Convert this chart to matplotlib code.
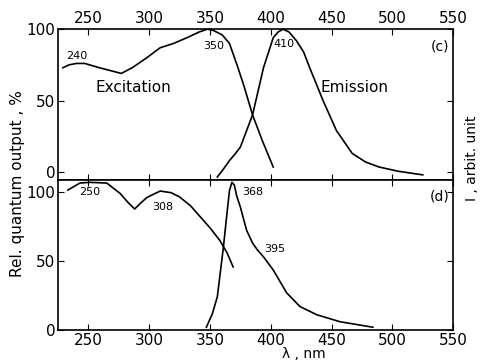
import numpy as np
import matplotlib.pyplot as plt

# panel (c): excitation and emission spectra
exc_c_x = [229, 234, 240, 247, 259, 268, 277, 286, 298, 309, 320, 331, 341, 348, 353, 360, 366, 373, 378, 385, 393, 402]
exc_c_y = [73, 75, 76, 76, 73, 71, 69, 73, 80, 87, 90, 94, 98, 100, 99, 96, 90, 73, 60, 40, 22, 3.5]
em_c_x = [356, 361, 366, 371, 375, 385, 394, 402, 406, 410, 415, 421, 427, 432, 443, 454, 467, 478, 489, 505, 525]
em_c_y = [-3.5, 2, 8, 13, 17.5, 40, 73, 94, 98, 100, 98, 92, 84, 73, 50, 29, 13, 7, 3.5, 0.5, -2]

# panel (d)
exc_d_x = [233, 243, 251, 265, 276, 283, 288, 293, 298, 309, 318, 325, 334, 342, 350, 358, 364, 369]
exc_d_y = [101.4, 106.5, 107, 106.5, 99, 92, 87.7, 92, 96, 100.7, 99.5, 96.4, 90, 82, 74, 65, 56, 45.7]
em_d_x = [347, 352, 356, 361, 364, 366, 368, 370, 372, 375, 380, 385, 389, 394, 402, 413, 424, 438, 457, 484]
em_d_y = [2, 12, 24, 60, 85, 101, 107, 105, 97, 89, 72.5, 63, 58, 53, 43.5, 27, 17, 11, 6, 2]

xticks = [250, 300, 350, 400, 450, 500, 550]

fig = plt.figure(figsize=(4.8, 3.6), dpi=100)
ax1 = fig.add_axes([0.121, 0.5, 0.823, 0.419])
ax2 = fig.add_axes([0.121, 0.0833, 0.823, 0.4167])

lw = 1.2
for ax in (ax1, ax2):
    ax.set_xlim(225, 550)
    ax.set_xticks(xticks)
    ax.set_yticks([0, 50, 100])
    ax.tick_params(direction='in', top=True, right=True, length=4, width=0.8,
                   labelsize=11, pad=2)
    for s in ax.spines.values():
        s.set_linewidth(1.2)

ax1.set_ylim(-5.6, 100)
ax1.plot(exc_c_x, exc_c_y, color='black', lw=lw, clip_on=False)
ax1.plot(em_c_x, em_c_y, color='black', lw=lw, clip_on=False)
ax1.tick_params(labelbottom=False, labeltop=True)
ax1.text(240, 78, '240', fontsize=8, ha='center', va='bottom')
ax1.text(353, 88, '350', fontsize=8, ha='center', va='center')
ax1.text(411, 89.5, '410', fontsize=8, ha='center', va='center')
ax1.text(287, 59.5, 'Excitation', fontsize=11, ha='center', va='center')
ax1.text(469, 59.5, 'Emission', fontsize=11, ha='center', va='center')
ax1.text(539, 88, '(c)', fontsize=10, ha='center', va='center')

ax2.set_ylim(0, 108.7)
ax2.plot(exc_d_x, exc_d_y, color='black', lw=lw, clip_on=False)
ax2.plot(em_d_x, em_d_y, color='black', lw=lw, clip_on=False)
ax2.text(251, 100, '250', fontsize=8, ha='center', va='center')
ax2.text(311, 89, '308', fontsize=8, ha='center', va='center')
ax2.text(385, 100, '368', fontsize=8, ha='center', va='center')
ax2.text(403, 58.7, '395', fontsize=8, ha='center', va='center')
ax2.text(539, 97, '(d)', fontsize=10, ha='center', va='center')

fig.text(0.036, 0.49, 'Rel. quantum output , %', rotation=90, fontsize=11,
         ha='center', va='center')
fig.text(0.983, 0.56, 'I , arbit. unit', rotation=90, fontsize=10,
         ha='center', va='center')
fig.text(0.633, 0.035, 'λ , nm', fontsize=10, ha='center', va='top')

fig.savefig('out.png', dpi=100)
